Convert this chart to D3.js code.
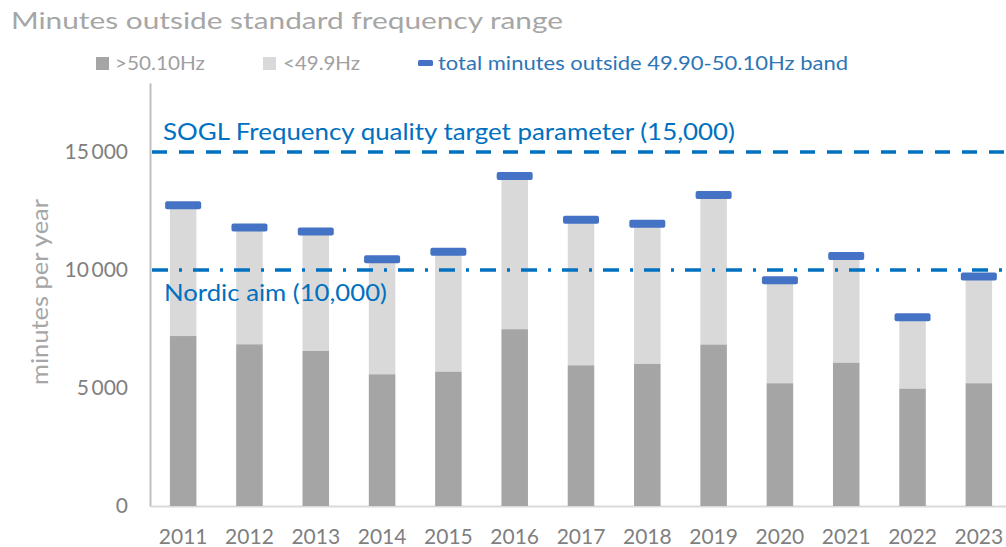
<!DOCTYPE html>
<html lang="en">
<head>
    <meta charset="UTF-8">
    <title>Minutes outside standard frequency range</title>
    <script src="https://cdn.jsdelivr.net/npm/d3@7"></script>
    <style>
        body { margin: 0; background: #fff; }
        svg { display: block; font-family: Lato, "Open Sans", sans-serif; }
        .tick-label { fill: #7f7f7f; font-size: 21px; }
        .ref-label { fill: #0070c0; font-size: 23px; }
    </style>
</head>
<body>
    <svg width="1006" height="547"></svg>
    <script>
        // data
        var years = ['2011', '2012', '2013', '2014', '2015', '2016', '2017', '2018', '2019', '2020', '2021', '2022', '2023'];
        var above = [7200, 6850, 6570, 5580, 5690, 7490, 5960, 6020, 6840, 5200, 6070, 4970, 5200];
        var total = [12740, 11800, 11630, 10450, 10770, 13980, 12130, 11960, 13170, 9560, 10590, 8000, 9720];
        var yTicks = [0, 5000, 10000, 15000];
        var refLines = [
            { value: 15000, label: 'SOGL Frequency quality target parameter (15,000)', dash: '15,12' },
            { value: 10000, label: 'Nordic aim (10,000)', dash: '16,11,3,11' }
        ];

        var svg = d3.select('svg'),
            plotLeft = 150, plotRight = 1012, plotTop = 83, plotBottom = 506;

        var x = d3.scaleBand().domain(years).range([plotLeft, plotRight]).paddingInner(0.6).paddingOuter(0.3),
            y = d3.scaleLinear().domain([0, 17920]).range([plotBottom, plotTop]);

        var fmt = function(v) { return d3.format(',')(v).replace(/,/g, '\u2009'); };

        function stretched(sel, len) {
            return sel.attr('textLength', len).attr('lengthAdjust', 'spacingAndGlyphs');
        }

        // title
        stretched(svg.append('text')
            .attr('x', 11).attr('y', 29)
            .attr('fill', '#a6a6a6')
            .style('font-size', '23px'), 552)
            .text('Minutes outside standard frequency range');

        // legend
        var lg = svg.append('g');
        lg.append('rect').attr('x', 96).attr('y', 57).attr('width', 13).attr('height', 13).attr('fill', '#a5a5a5');
        stretched(lg.append('text').attr('x', 115).attr('y', 70).attr('fill', '#a0a0a0').style('font-size', '19px'), 90)
            .text('>50.10Hz');
        lg.append('rect').attr('x', 263).attr('y', 57).attr('width', 13).attr('height', 13).attr('fill', '#d9d9d9');
        stretched(lg.append('text').attr('x', 283).attr('y', 70).attr('fill', '#a0a0a0').style('font-size', '19px'), 77)
            .text('<49.9Hz');
        lg.append('rect').attr('x', 418).attr('y', 60).attr('width', 15).attr('height', 6).attr('rx', 1.5).attr('fill', '#4472c4');
        stretched(lg.append('text').attr('x', 438).attr('y', 70).attr('fill', '#2e75b6').style('font-size', '19px'), 410)
            .text('total minutes outside 49.90-50.10Hz band');

        // axes
        var yAxis = svg.append('g')
            .attr('transform', 'translate(' + plotLeft + ',0)')
            .call(d3.axisLeft(y).tickValues(yTicks).tickSize(0).tickPadding(22).tickFormat(fmt))
            .attr('font-family', null).attr('font-size', null);
        yAxis.select('.domain').attr('stroke', '#bfbfbf').attr('stroke-width', 2);
        yAxis.selectAll('text').attr('class', 'tick-label');

        var xAxis = svg.append('g')
            .attr('transform', 'translate(0,' + plotBottom + ')')
            .call(d3.axisBottom(x).tickSize(0).tickPadding(23))
            .attr('font-family', null).attr('font-size', null);
        xAxis.select('.domain').attr('stroke', '#d9d9d9').attr('stroke-width', 2);
        xAxis.selectAll('text').attr('class', 'tick-label');

        stretched(svg.append('text')
            .attr('transform', 'translate(48,292) rotate(-90)')
            .attr('text-anchor', 'middle')
            .attr('fill', '#a6a6a6')
            .style('font-size', '23px'), 186)
            .text('minutes per year');

        // stacked bars
        var bars = svg.append('g');
        bars.selectAll('.below').data(years).enter().append('rect')
            .attr('x', function(d) { return x(d); })
            .attr('width', x.bandwidth())
            .attr('y', function(d, i) { return y(total[i]); })
            .attr('height', function(d, i) { return y(above[i]) - y(total[i]); })
            .attr('fill', '#d9d9d9');
        bars.selectAll('.above').data(years).enter().append('rect')
            .attr('x', function(d) { return x(d); })
            .attr('width', x.bandwidth())
            .attr('y', function(d, i) { return y(above[i]); })
            .attr('height', function(d, i) { return y(0) - y(above[i]); })
            .attr('fill', '#a5a5a5');

        // reference lines
        refLines.forEach(function(r) {
            svg.append('line')
                .attr('x1', plotLeft + 2).attr('x2', 1006)
                .attr('y1', y(r.value)).attr('y2', y(r.value))
                .attr('stroke', '#0070c0').attr('stroke-width', 3.5)
                .attr('stroke-dasharray', r.dash);
        });
        stretched(svg.append('text').attr('class', 'ref-label')
            .attr('x', 163).attr('y', y(15000) - 12), 572)
            .text(refLines[0].label);
        stretched(svg.append('text').attr('class', 'ref-label')
            .attr('x', 164).attr('y', y(10000) + 31), 223)
            .text(refLines[1].label);

        // total markers
        svg.append('g').selectAll('rect').data(years).enter().append('rect')
            .attr('x', function(d) { return x(d) + x.bandwidth() / 2 - 18; })
            .attr('width', 36)
            .attr('y', function(d, i) { return y(total[i]) - 4; })
            .attr('height', 8)
            .attr('rx', 2)
            .attr('fill', '#4472c4');
    </script>
</body>
</html>
